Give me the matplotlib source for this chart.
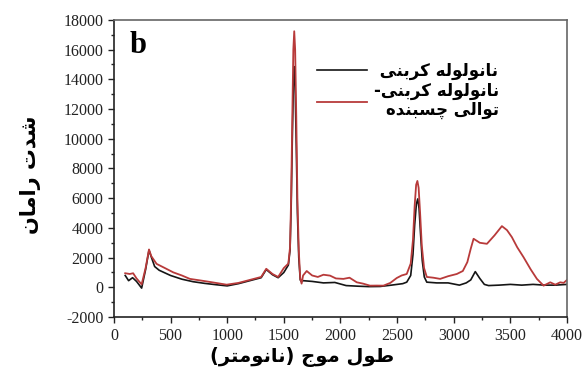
import numpy as np
import matplotlib
matplotlib.use('Agg')
import matplotlib.pyplot as plt
from matplotlib.ticker import MultipleLocator

plt.rcParams['axes.unicode_minus'] = False

# ------ data ------
x_cnt = [100, 130, 165, 200, 245, 280, 310, 330, 360, 400, 500, 600, 700, 800, 900,
         1000, 1100, 1200, 1300, 1345, 1400, 1450, 1500, 1540, 1555, 1565, 1575, 1585,
         1592, 1600, 1610, 1620, 1632, 1645, 1657, 1670, 1750, 1850, 1950, 2050, 2150,
         2250, 2350, 2450, 2550, 2585, 2620, 2640, 2655, 2670, 2682, 2694, 2707, 2722,
         2740, 2762, 2850, 2950, 3050, 3110, 3150, 3190, 3230, 3270, 3307, 3400, 3500,
         3600, 3700, 3800, 3900, 4000]
y_cnt = [800, 450, 650, 400, -50, 1200, 2500, 2050, 1400, 1150, 800, 550, 380, 270, 180,
         100, 250, 450, 650, 1200, 850, 650, 1000, 1500, 2500, 5500, 10000, 13800,
         14850, 13500, 9500, 5000, 2000, 500, 380, 450, 400, 300, 330, 120, 80,
         50, 60, 150, 250, 350, 800, 2200, 4200, 5600, 5950, 5300, 3600, 1800,
         700, 350, 300, 300, 150, 300, 500, 1060, 600, 200, 120, 150, 200,
         150, 200, 150, 150, 200]

x_mix = [100, 140, 170, 200, 245, 280, 310, 330, 377, 450, 524, 600, 671, 750, 819, 900,
         995, 1100, 1200, 1300, 1345, 1400, 1450, 1500, 1540, 1555, 1565, 1575, 1584,
         1592, 1600, 1610, 1620, 1632, 1645, 1657, 1670, 1702, 1750, 1800, 1850, 1908,
         1960, 2026, 2080, 2144, 2200, 2261, 2320, 2379, 2440, 2497, 2540, 2585, 2620,
         2640, 2655, 2668, 2679, 2690, 2703, 2718, 2738, 2762, 2820, 2880, 2950, 3027,
         3080, 3120, 3150, 3175, 3230, 3293, 3360, 3425, 3470, 3513, 3560, 3616, 3680,
         3734, 3793, 3852, 3896, 3940, 3970, 4000]
y_mix = [950, 900, 950, 600, 200, 1300, 2550, 2100, 1580, 1300, 1010, 800, 570, 480, 400, 300,
         180, 300, 500, 700, 1250, 900, 700, 1300, 1600, 2700, 6200, 11500, 16000,
         17230, 16000, 11500, 6000, 2500, 600, 250, 800, 1100, 800, 700, 850, 790,
         600, 570, 650, 340, 250, 115, 120, 115, 300, 630, 800, 900, 1600,
         3200, 5500, 6900, 7160, 6700, 5000, 2800, 1300, 700, 650, 570, 750, 900,
         1100, 1700, 2600, 3270, 3000, 2930, 3500, 4120, 3850, 3380, 2700, 2030, 1200,
         570, 115, 340, 180, 340, 300, 500]

label_cnt = 'نانولوله کربنی'
label_mix = 'نانولوله کربنی-\nتوالی چسبنده'
xlabel = 'طول موج (نانومتر)'
ylabel = 'شدت رامان'

# ------ minimal Persian shaping (matplotlib has no RTL support) ------
FORMS = {
    'ا': ('\uFE8D', '\uFE8E', None, None),
    'ب': ('\uFE8F', '\uFE90', '\uFE91', '\uFE92'),
    'ت': ('\uFE95', '\uFE96', '\uFE97', '\uFE98'),
    'ج': ('\uFE9D', '\uFE9E', '\uFE9F', '\uFEA0'),
    'د': ('\uFEA9', '\uFEAA', None, None),
    'ر': ('\uFEAD', '\uFEAE', None, None),
    'س': ('\uFEB1', '\uFEB2', '\uFEB3', '\uFEB4'),
    'ش': ('\uFEB5', '\uFEB6', '\uFEB7', '\uFEB8'),
    'ط': ('\uFEC1', '\uFEC2', '\uFEC3', '\uFEC4'),
    'ل': ('\uFEDD', '\uFEDE', '\uFEDF', '\uFEE0'),
    'م': ('\uFEE1', '\uFEE2', '\uFEE3', '\uFEE4'),
    'ن': ('\uFEE5', '\uFEE6', '\uFEE7', '\uFEE8'),
    'ه': ('\uFEE9', '\uFEEA', '\uFEEB', '\uFEEC'),
    'و': ('\uFEED', '\uFEEE', None, None),
    'چ': ('\uFB7A', '\uFB7B', '\uFB7C', '\uFB7D'),
    'ک': ('\uFB8E', '\uFB8F', '\uFB90', '\uFB91'),
    'ی': ('\uFBFC', '\uFBFD', '\uFBFE', '\uFBFF'),
}


def fa(text):
    lines = []
    for line in text.split('\n'):
        out = []
        for i, c in enumerate(line):
            if c not in FORMS:
                out.append(c)
                continue
            prev = line[i-1] if i > 0 else ''
            nxt = line[i+1] if i+1 < len(line) else ''
            jp = prev in FORMS and FORMS[prev][2] is not None
            jn = FORMS[c][2] is not None and nxt in FORMS
            f = FORMS[c]
            if jp and jn:
                out.append(f[3])
            elif jp:
                out.append(f[1])
            elif jn:
                out.append(f[2])
            else:
                out.append(f[0])
        lines.append(''.join(out)[::-1].translate(str.maketrans('()', ')(')))
    return '\n'.join(lines)


fig = plt.figure(figsize=(5.87, 3.67), dpi=100)
ax = fig.add_axes([0.194, 0.136, 0.772, 0.81])

ax.plot(x_cnt, y_cnt, color='#151515', lw=1.2, label=' ' + fa(label_cnt))
ax.plot(x_mix, y_mix, color='#b83a3a', lw=1.3, label=fa(label_mix))

ax.set_xlim(0, 4000)
ax.set_ylim(-2000, 18000)
ax.xaxis.set_major_locator(MultipleLocator(500))
ax.xaxis.set_minor_locator(MultipleLocator(250))
ax.yaxis.set_major_locator(MultipleLocator(2000))
ax.yaxis.set_minor_locator(MultipleLocator(1000))
ax.tick_params(which='both', direction='out', colors='#222222', width=1)
ax.tick_params(which='major', length=4)
ax.tick_params(which='minor', length=2.5)
for lab in ax.get_xticklabels() + ax.get_yticklabels():
    lab.set_fontfamily('Liberation Serif')
    lab.set_fontsize(11.5)

for s in ['left', 'bottom']:
    ax.spines[s].set_color('#222222')
    ax.spines[s].set_linewidth(1.2)
for s in ['top', 'right']:
    ax.spines[s].set_color('#666666')
    ax.spines[s].set_linewidth(1.2)

ax.set_xlabel(fa(xlabel), fontfamily='DejaVu Sans', fontweight='bold', fontsize=14)
ax.xaxis.set_label_coords(0.415, -0.1)
ax.set_ylabel(fa(ylabel), fontfamily='DejaVu Sans', fontweight='bold', fontsize=15)
ax.yaxis.set_label_coords(-0.16, 0.48)

ax.text(0.035, 0.89, 'b', transform=ax.transAxes, fontsize=22, fontweight='bold',
        fontfamily='Liberation Serif', va='baseline')

leg = ax.legend(loc='upper left', bbox_to_anchor=(0.448, 0.86), frameon=False,
                prop={'family': 'DejaVu Sans', 'weight': 'bold', 'size': 12},
                handlelength=3.0, handletextpad=0.45, labelspacing=0.15,
                borderpad=0, borderaxespad=0)
for t in leg.get_texts():
    t.set_multialignment('right')
    t.set_linespacing(1.05)

fig.savefig('out.png', dpi=100)
